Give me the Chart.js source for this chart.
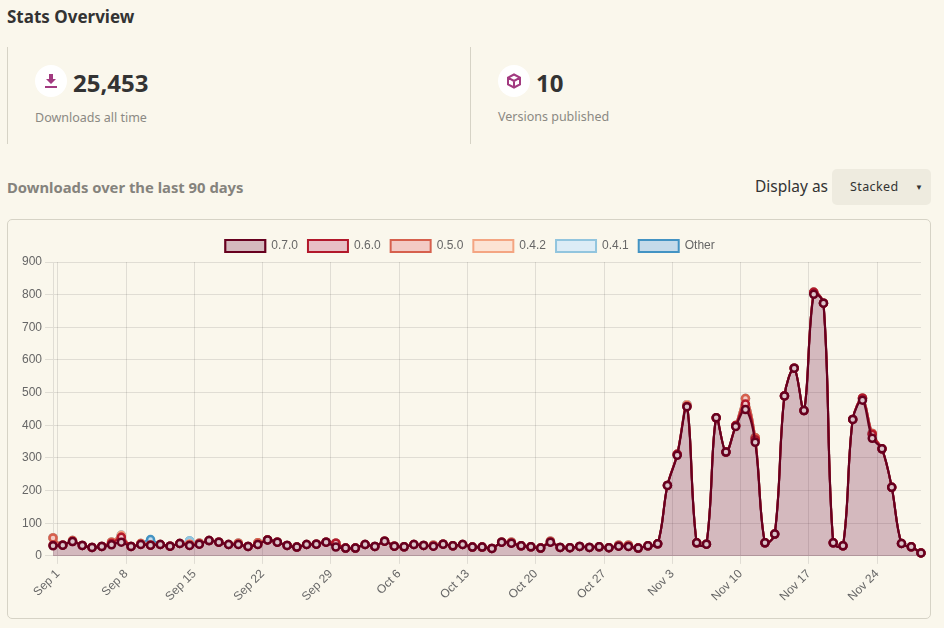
<!DOCTYPE html>
<html>
<head>
<meta charset="utf-8">
<script src="https://cdn.jsdelivr.net/npm/chart.js@4"></script>
<style>
  html, body { margin: 0; padding: 0; background: #faf7ec; }
  body { width: 944px; height: 628px; position: relative; overflow: hidden; font-family: "Noto Sans", sans-serif; color: #333; }
  .abs { position: absolute; white-space: nowrap; }
  .divider { position: absolute; top: 47px; width: 1px; height: 97px; background: #d6d3c6; }
  .icon { position: absolute; width: 32px; height: 32px; border-radius: 50%; background: #fff; top: 65px; }
  .icon svg { position: absolute; left: 8px; top: 8px; width: 16px; height: 16px; }
  .chart-box { position: absolute; left: 7px; top: 219px; width: 922px; height: 398px; border: 1px solid #d6d3c6; border-radius: 5px; }
  .select { position: absolute; left: 832px; top: 169px; width: 99px; height: 36px; background: #eeebdf; border-radius: 5px; }
</style>
</head>
<body>
  <div class="abs" style="left:7px;top:5px;font-size:17px;font-weight:700;">Stats Overview</div>

  <div class="divider" style="left:7px"></div>
  <div class="divider" style="left:470px"></div>

  <div class="icon" style="left:35px">
    <svg viewBox="0 0 16 16"><path fill="#a23a80" d="M6 1h4v5h3l-5 5-5-5h3zM2 13h12v2H2z"/></svg>
  </div>
  <div class="abs" style="left:73px;top:66px;font-size:24px;font-weight:700;">25,453</div>
  <div class="abs" style="left:35px;top:109px;font-size:12.5px;color:#8b8983;">Downloads all time</div>

  <div class="icon" style="left:498px">
    <svg viewBox="0 0 16 16"><path fill="none" stroke="#a23a80" stroke-width="2" d="M8 1.5l6 3.2v6.6l-6 3.2-6-3.2V4.7zM2 4.7l6 3.3 6-3.3M8 8v6.5"/></svg>
  </div>
  <div class="abs" style="left:536px;top:66px;font-size:24px;font-weight:700;">10</div>
  <div class="abs" style="left:498px;top:108px;font-size:12.5px;color:#8b8983;">Versions published</div>

  <div class="abs" style="left:7px;top:177px;font-size:14.8px;font-weight:700;color:#85837d;">Downloads over the last 90 days</div>
  <div class="abs" style="left:755px;top:175px;font-size:15.5px;">Display as</div>
  <div class="select"></div>
  <div class="abs" style="left:850px;top:178px;font-size:12.5px;letter-spacing:0.4px;">Stacked</div>
  <div class="abs" style="left:915px;top:181px;font-size:8px;">&#9660;</div>

  <div class="chart-box"></div>
  <div class="abs" style="left:8px;top:220px;width:922px;height:398px;">
    <canvas id="downloadsChart"></canvas>
  </div>

<script>
// Tick labels and where they sit (the day ticks fall half a step after the points)
const tickLabels = ['Sep 1', 'Sep 8', 'Sep 15', 'Sep 22', 'Sep 29', 'Oct 6', 'Oct 13', 'Oct 20', 'Oct 27', 'Nov 3', 'Nov 10', 'Nov 17', 'Nov 24'];
const tickPositions = [0.5, 7.5, 14.5, 21.5, 28.5, 35.5, 42.5, 49.5, 56.5, 63.5, 70.5, 77.5, 84.5];
const yTicks = [0, 100, 200, 300, 400, 500, 600, 700, 800, 900];

// Downloads per day, one list per version
const v070 = [31, 33, 44, 32, 26, 29, 34, 42, 29, 35, 33, 35, 30, 38, 32, 36, 47, 42, 35, 35, 29, 35, 49, 42, 32, 27, 35, 36, 42, 27,
  24, 24, 35, 29, 45, 30, 28, 35, 32, 30, 36, 31, 35, 27, 27, 23, 42, 39, 31, 28, 24, 42, 26, 25, 29, 26, 28, 25, 30, 29,
  24, 31, 37, 216, 308, 457, 40, 36, 423, 318, 396, 448, 348, 40, 67, 490, 575, 445, 801, 774, 40, 31, 418, 477, 360, 328, 210, 38, 28, 9];
const v060 = [2, 0, 0, 0, 0, 0, 4, 15, 0, 0, 0, 0, 0, 0, 0, 0, 0, 0, 0, 0, 0, 0, 0, 0, 0, 0, 0, 0, 0, 12,
  0, 0, 0, 0, 0, 0, 0, 0, 0, 0, 0, 0, 0, 0, 0, 0, 0, 0, 0, 0, 0, 0, 0, 0, 0, 0, 0, 0, 0, 0,
  0, 0, 0, 0, 3, 0, 0, 0, 0, 0, 3, 17, 8, 0, 0, 0, 0, 0, 6, 0, 0, 0, 0, 6, 12, 0, 0, 0, 0, 0];
const v050 = [22, 0, 3, 0, 0, 0, 4, 0, 0, 3, 0, 0, 0, 0, 4, 3, 0, 0, 0, 4, 0, 5, 0, 0, 0, 0, 0, 0, 0, 0,
  0, 0, 0, 0, 0, 0, 0, 0, 0, 3, 0, 0, 0, 0, 0, 0, 0, 3, 0, 0, 0, 3, 0, 0, 0, 0, 0, 0, 3, 4,
  0, 0, 0, 0, 0, 3, 0, 0, 0, 0, 0, 17, 6, 0, 0, 0, 0, 0, 0, 0, 0, 0, 0, 0, 3, 0, 0, 0, 0, 0];
const v042 = [0, 0, 0, 0, 0, 0, 0, 6, 0, 0, 0, 0, 0, 0, 0, 0, 0, 0, 0, 0, 0, 0, 0, 0, 0, 0, 0, 0, 0, 0,
  0, 0, 0, 0, 0, 0, 0, 0, 0, 0, 0, 0, 0, 0, 0, 0, 0, 0, 0, 0, 0, 0, 0, 0, 0, 0, 0, 0, 0, 0,
  0, 0, 0, 0, 0, 3, 0, 0, 0, 0, 0, 0, 0, 0, 0, 0, 0, 0, 0, 0, 0, 0, 0, 0, 0, 0, 0, 0, 0, 0];
const v041 = [0, 0, 0, 0, 0, 0, 0, 0, 0, 0, 0, 0, 0, 0, 10, 0, 0, 0, 0, 0, 0, 0, 0, 0, 0, 0, 0, 0, 0, 0,
  0, 0, 0, 0, 0, 0, 0, 0, 0, 0, 0, 0, 0, 0, 0, 0, 0, 0, 0, 0, 0, 0, 0, 0, 0, 0, 0, 0, 0, 0,
  0, 0, 0, 0, 0, 0, 0, 0, 0, 0, 0, 0, 0, 0, 0, 0, 0, 0, 0, 0, 0, 0, 0, 0, 0, 0, 0, 0, 0, 0];
const vOther = [0, 0, 0, 0, 0, 0, 0, 0, 0, 0, 17, 0, 0, 0, 0, 0, 0, 0, 0, 0, 0, 0, 0, 0, 0, 0, 0, 0, 0, 0,
  0, 0, 0, 0, 0, 0, 0, 0, 0, 0, 0, 0, 0, 0, 0, 0, 0, 0, 0, 0, 0, 0, 0, 0, 0, 0, 0, 0, 0, 0,
  0, 0, 0, 0, 0, 0, 0, 0, 0, 0, 0, 0, 0, 0, 0, 0, 0, 0, 0, 0, 0, 0, 0, 0, 0, 0, 0, 0, 0, 0];

const seriesNames = ['0.7.0', '0.6.0', '0.5.0', '0.4.2', '0.4.1', 'Other'];
const seriesValues = [v070, v060, v050, v042, v041, vOther];
const seriesLines = ['#67001f', '#b2182b', '#d6604d', '#f4a582', '#92c5de', '#4393c3'];
const seriesFills = ['rgba(100,0,50,0.25)', 'rgba(178,24,80,0.25)', 'rgba(230,100,105,0.3)', 'rgba(255,190,170,0.35)', 'rgba(190,225,255,0.5)', 'rgba(73,153,229,0.3)'];
// points are opaque so the lines and lower markers don't show through them
const pointFills = ['#dcc5cb', '#f0c8cc', '#f3cbc4', '#fbdccd', '#dcebf4', '#c5dbea'];

const gridColor = 'rgba(0,0,0,0.1)';

const datasets = seriesNames.map((name, s) => ({
    label: name,
    data: seriesValues[s].map((v, i) => ({ x: i, y: v })),
    borderColor: seriesLines[s],
    backgroundColor: seriesFills[s],
    pointBackgroundColor: pointFills[s],
    borderWidth: s === 0 ? 2.2 : 2,
    pointRadius: 3.5,
    pointBorderWidth: 2.5,
    tension: 0.35,
    clip: false,
    fill: s === 0 ? 'origin' : '-1'
}));

new Chart(document.getElementById('downloadsChart'), {
    type: 'line',
    data: { datasets },
    options: {
        responsive: true,
        maintainAspectRatio: false,
        animation: false,
        layout: { padding: { left: 11, right: 9, top: 10, bottom: 11 } },
        plugins: {
            legend: { labels: { boxWidth: 40, font: { family: 'Liberation Sans', size: 12 }, color: '#666' } },
            tooltip: { enabled: false }
        },
        scales: {
            x: {
                type: 'linear',
                min: 0,
                max: seriesValues[0].length - 1,
                grid: { color: gridColor },
                afterBuildTicks: axis => { axis.ticks = tickPositions.map(value => ({ value })); },
                ticks: {
                    autoSkip: false,
                    minRotation: 45,
                    maxRotation: 45,
                    color: '#666',
                    font: { family: 'Liberation Sans', size: 12 },
                    callback: (value) => tickLabels[tickPositions.indexOf(value)]
                }
            },
            y: {
                stacked: true,
                min: yTicks[0],
                max: yTicks[yTicks.length - 1],
                grid: { color: gridColor },
                ticks: { stepSize: 100, color: '#666', font: { family: 'Liberation Sans', size: 12 } }
            }
        }
    }
});
</script>
</body>
</html>
